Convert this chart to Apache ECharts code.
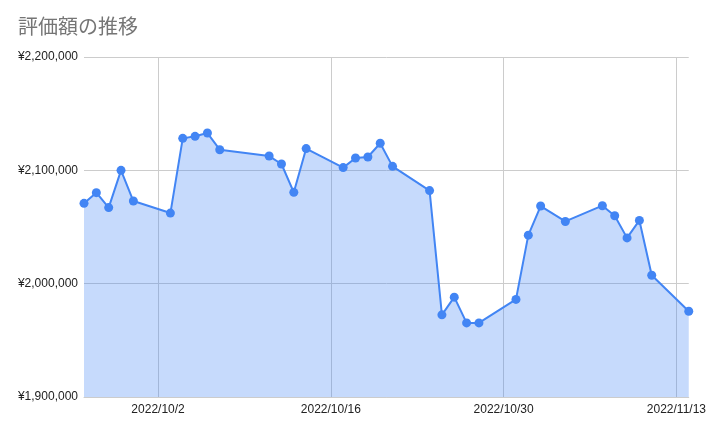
<!DOCTYPE html>
<html><head><meta charset="utf-8">
<script src="https://cdn.jsdelivr.net/npm/echarts@6/dist/echarts.min.js"></script>
<style>html,body{margin:0;padding:0;background:#fff}#c{width:709px;height:434px}</style>
</head><body><div id="c"></div>
<script>
const titleText = '評価額の推移';
const dates = ['2022-09-26','2022-09-27','2022-09-28','2022-09-29','2022-09-30','2022-10-03','2022-10-04','2022-10-05','2022-10-06','2022-10-07','2022-10-11','2022-10-12','2022-10-13','2022-10-14','2022-10-17','2022-10-18','2022-10-19','2022-10-20','2022-10-21','2022-10-24','2022-10-25','2022-10-26','2022-10-27','2022-10-28','2022-10-31','2022-11-01','2022-11-02','2022-11-04','2022-11-07','2022-11-08','2022-11-09','2022-11-10','2022-11-11','2022-11-14'];
const values = [2070900,2080300,2067100,2100000,2072900,2062300,2128200,2130000,2132900,2118200,2112600,2105600,2080600,2119200,2102400,2110900,2111800,2123900,2103500,2082100,1972500,1988100,1965400,1965400,1986100,2042800,2068500,2054900,2068800,2059900,2040400,2055800,2007400,1975700];
const xTicks = ['2022-10-02','2022-10-16','2022-10-30','2022-11-13'];
const xRange = ['2022-09-26','2022-11-14'];
const yTicks = [1900000,2000000,2100000,2200000];

const DAY = 86400000;
function dayNum(s){const p=s.split('-').map(Number);return Math.round(Date.UTC(p[0],p[1]-1,p[2])/DAY);}
function fmtDay(n){const d=new Date(n*DAY);return d.getUTCFullYear()+'/'+(d.getUTCMonth()+1)+'/'+d.getUTCDate();}
const chart = echarts.init(document.getElementById('c'), null, {renderer:'canvas'});
chart.setOption({
  animation:false,
  title:{text:titleText,left:13,top:11,textStyle:{fontFamily:'Noto Sans CJK JP',fontSize:20,fontWeight:'normal',color:'#757575'}},
  grid:{left:84,right:20,top:57,bottom:37,containLabel:false},
  xAxis:{type:'value',min:dayNum(xRange[0]),max:dayNum(xRange[1]),
    axisLine:{show:true,lineStyle:{color:'#cccccc'}},
    axisTick:{show:false,customValues:xTicks.map(dayNum)},
    splitLine:{show:true,lineStyle:{color:'#cccccc',width:1}},
    axisLabel:{customValues:xTicks.map(dayNum),margin:7,color:'#222',fontFamily:'Liberation Sans',fontSize:12,
      showMinLabel:true,showMaxLabel:true,formatter:function(v){return fmtDay(v);}}
  },
  yAxis:{type:'value',min:yTicks[0],max:yTicks[yTicks.length-1],interval:yTicks[1]-yTicks[0],
    axisLine:{show:false},axisTick:{show:false},
    splitLine:{lineStyle:{color:'#cccccc',width:1}},
    axisLabel:{margin:6,color:'#222',fontFamily:'Liberation Sans',fontSize:12,
      formatter:function(v){return '¥'+v.toLocaleString('en-US');}}
  },
  series:[{type:'line',data:dates.map((d,i)=>[dayNum(d),values[i]]),
    symbol:'circle',symbolSize:9,showAllSymbol:true,clip:false,
    lineStyle:{color:'#4285F4',width:2},
    itemStyle:{color:'#4285F4'},
    areaStyle:{color:'#4285F4',opacity:0.3}
  }]
});
</script></body></html>
